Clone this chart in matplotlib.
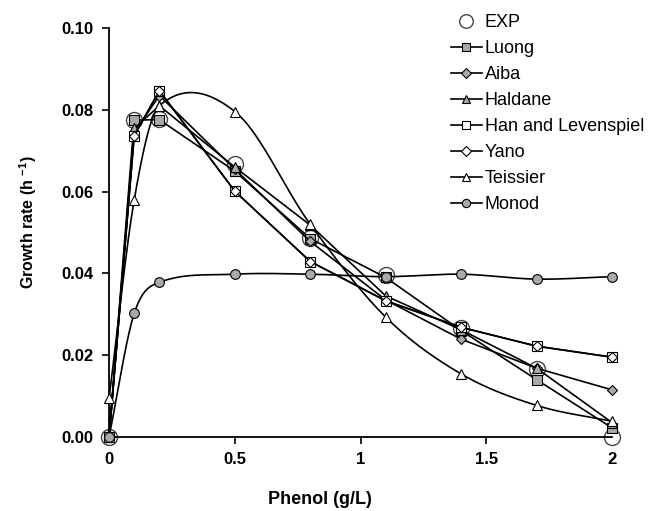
import numpy as np
import matplotlib
matplotlib.use("Agg")
from matplotlib import pyplot as plt

plt.rcParams['font.family'] = ['Liberation Sans', 'DejaVu Sans']
plt.rcParams['mathtext.fontset'] = 'custom'
plt.rcParams['mathtext.rm'] = 'Liberation Sans'
plt.rcParams['mathtext.bf'] = 'Liberation Sans:bold'

# Data
phenol = [0, 0.1, 0.2, 0.5, 0.8, 1.1, 1.4, 1.7, 2.0]
exp = [0.0, 0.0775, 0.0778, 0.0667, 0.0487, 0.0395, 0.0266, 0.0167, 0.0]
luong = [0.0, 0.0775, 0.0776, 0.0650, 0.0485, 0.0390, 0.0260, 0.0140, 0.0022]
aiba = [0.0, 0.0745, 0.0835, 0.0655, 0.0478, 0.0335, 0.0239, 0.0168, 0.0115]
haldane = [0.0, 0.0755, 0.0810, 0.0660, 0.0518, 0.0345, 0.0262, 0.0168, 0.0035]
han = [0.0, 0.0737, 0.0847, 0.0601, 0.0429, 0.0333, 0.0268, 0.0222, 0.0195]
yano = [0.0, 0.0737, 0.0847, 0.0601, 0.0429, 0.0333, 0.0268, 0.0222, 0.0195]
teissier = [0.0095, 0.0580, 0.0810, 0.0796, 0.0520, 0.0293, 0.0154, 0.0077, 0.0038]
monod = [0.0, 0.0302, 0.0378, 0.0398, 0.0398, 0.0392, 0.0398, 0.0386, 0.0392]

GRAY = '#a9a9a9'


def smooth_curve(x, y, n=40):
    # cubic Hermite (Catmull-Rom style tangents), only used to draw smooth lines
    x = np.asarray(x, float)
    y = np.asarray(y, float)
    m = len(x)
    d = np.zeros(m)
    d[0] = (y[1] - y[0]) / (x[1] - x[0])
    d[-1] = (y[-1] - y[-2]) / (x[-1] - x[-2])
    for i in range(1, m - 1):
        d[i] = (y[i + 1] - y[i - 1]) / (x[i + 1] - x[i - 1])
    xs_all, ys_all = [], []
    for i in range(m - 1):
        h = x[i + 1] - x[i]
        t = np.linspace(0, 1, n)
        h00 = 2 * t ** 3 - 3 * t ** 2 + 1
        h10 = t ** 3 - 2 * t ** 2 + t
        h01 = -2 * t ** 3 + 3 * t ** 2
        h11 = t ** 3 - t ** 2
        xs_all.append(x[i] + t * h)
        ys_all.append(h00 * y[i] + h10 * h * d[i] + h01 * y[i + 1] + h11 * h * d[i + 1])
    return np.concatenate(xs_all), np.concatenate(ys_all)


fig = plt.figure(figsize=(6.61, 5.11), dpi=100)
ax = fig.add_axes([0.165, 0.145, 0.761, 0.80])

lw = 1.2
ms = 7

# EXP points
ax.plot(phenol, exp, linestyle='none', marker='o', ms=11.5, mfc='white', mec='#444444',
        mew=1.0, clip_on=False, zorder=2, label='EXP')

series = [
    ('Luong', luong, 's', GRAY, False),
    ('Aiba', aiba, 'D', GRAY, False),
    ('Haldane', haldane, '^', GRAY, False),
    ('Han and Levenspiel', han, 's', 'white', False),
    ('Yano', yano, 'D', 'white', False),
    ('Teissier', teissier, '^', 'white', True),
    ('Monod', monod, 'o', GRAY, True),
]

for name, vals, mk, fc, smooth in series:
    size = ms - 1.5 if mk == 'D' else ms
    if smooth:
        xs, ys = smooth_curve(phenol, vals)
        ax.plot(xs, ys, color='black', lw=lw, clip_on=False, zorder=3)
        ax.plot(phenol, vals, linestyle='none', marker=mk, ms=size, mfc=fc, mec='black',
                mew=0.8, clip_on=False, zorder=4)
        ax.plot([], [], color='black', lw=lw, marker=mk, ms=size, mfc=fc, mec='black',
                mew=0.8, label=name)
    else:
        ax.plot(phenol, vals, color='black', lw=lw, marker=mk, ms=size, mfc=fc, mec='black',
                mew=0.8, clip_on=False, zorder=3, label=name)

ax.set_xlim(0, 2)
ax.set_ylim(0, 0.10)
ax.set_xticks([0, 0.5, 1, 1.5, 2])
ax.set_xticklabels(['0', '0.5', '1', '1.5', '2'])
ax.set_yticks([0, 0.02, 0.04, 0.06, 0.08, 0.10])
ax.set_yticklabels(['0.00', '0.02', '0.04', '0.06', '0.08', '0.10'])
for lab in ax.get_xticklabels() + ax.get_yticklabels():
    lab.set_fontweight('bold')
    lab.set_fontsize(12)
ax.tick_params(direction='out', length=5, width=1.2, pad=6)
ax.spines['top'].set_visible(False)
ax.spines['right'].set_visible(False)
ax.spines['left'].set_linewidth(1.3)
ax.spines['bottom'].set_linewidth(1.3)

ax.set_xlabel('Phenol (g/L)', fontsize=13, fontweight='bold')
ax.xaxis.set_label_coords(0.42, -0.132)
ax.set_ylabel(r'Growth rate (h $^{\mathbf{-1}}$)', fontsize=11.5, fontweight='bold')
ax.yaxis.set_label_coords(-0.14, 0.526)

fig.legend(loc='upper left', bbox_to_anchor=(0.668, 0.99), frameon=False, fontsize=13,
           handlelength=1.75, handletextpad=0.15, labelspacing=0.5, borderpad=0,
           markerscale=0.85)

fig.savefig('out.png', dpi=100)
